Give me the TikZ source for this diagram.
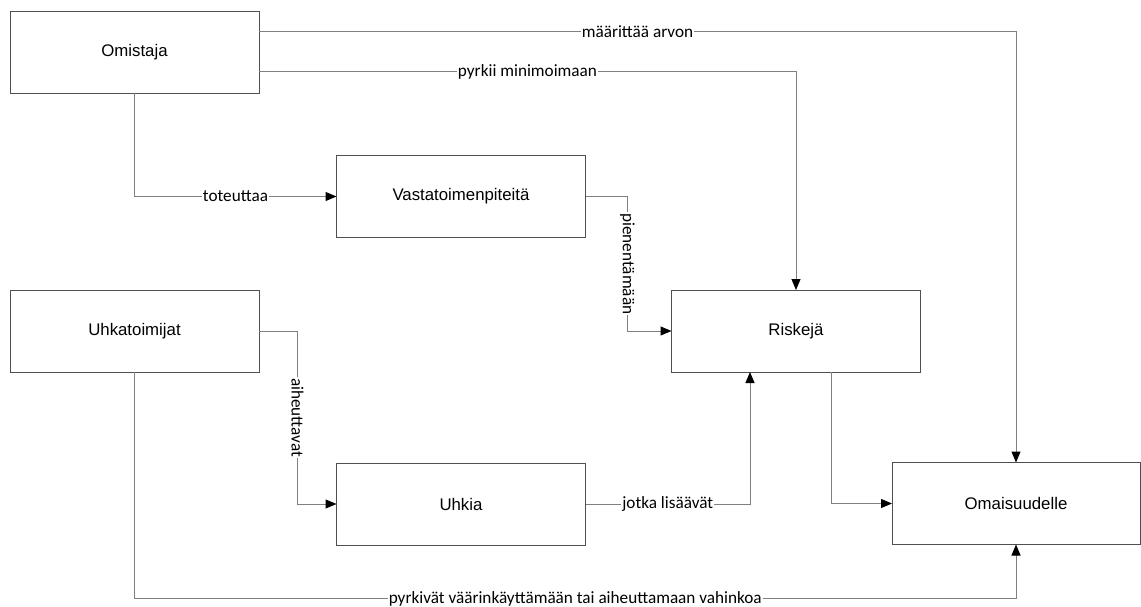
\documentclass[tikz,border=0pt]{standalone}
\usepackage{fontspec}
\setmainfont{Liberation Sans}
\newfontfamily\lblfont{Carlito}
\usetikzlibrary{arrows.meta,calc}
\definecolor{boxline}{HTML}{505050}
\definecolor{connline}{HTML}{808080}
\begin{document}
\begin{tikzpicture}[x=1pt,y=-1pt,
  box/.style={draw=boxline,line width=0.9pt,fill=white,minimum width=249pt,minimum height=82pt,
    inner sep=0pt,outer sep=0pt,font=\fontsize{16.8}{20}\selectfont},
  conn/.style={draw=connline,line width=1pt,-{Triangle[length=11pt,width=9pt,color=black]}},
  lbl/.style={fill=white,inner sep=1pt,text=black,font=\lblfont\fontsize{17.2}{20}\selectfont}]
\useasboundingbox (0,0) rectangle (1141,607);

% actors, measures and targets
\node[box] (om)  at (134.5,52)    {Omistaja};
\node[box] (va)  at (461,196.5)   {Vastatoimenpiteitä};
\node[box] (uh)  at (134.5,331)   {Uhkatoimijat};
\node[box] (ri)  at (796,331)     {Riskejä};
\node[box] (uk)  at (461,504)     {Uhkia};
\node[box,minimum width=248pt] (oma) at (1016,503.5) {Omaisuudelle};

% relations
\draw[conn] ($(om.north east)+(0,21)$) -| node[lbl,pos=0.25]{määrittää arvon} (oma.north);
\draw[conn] ($(om.north east)+(0,61)$) -| node[lbl,pos=0.25]{pyrkii minimoimaan} (ri.north);
\draw[conn] (om.south) |- node[lbl,pos=0.75]{toteuttaa} (va.west);
\draw[conn] (va.east) -- ++(42,0) |- node[lbl,pos=0.25,rotate=-90]{pienentämään} (ri.west);
\draw[conn] (uh.east) -- ++(38.5,0) |- node[lbl,pos=0.25,rotate=-90]{aiheuttavat} (uk.west);
\draw[conn] (uk.east) -| node[lbl,pos=0.25]{jotka lisäävät} ($(ri.south)+(-46,0)$);
\draw[conn] ($(ri.south)+(35,0)$) |- (oma.west);
\draw[conn] (uh.south) -- ++(0,226.5) -| node[lbl,pos=0.25]{pyrkivät väärinkäyttämään tai aiheuttamaan vahinkoa} (oma.south);
\end{tikzpicture}
\end{document}
